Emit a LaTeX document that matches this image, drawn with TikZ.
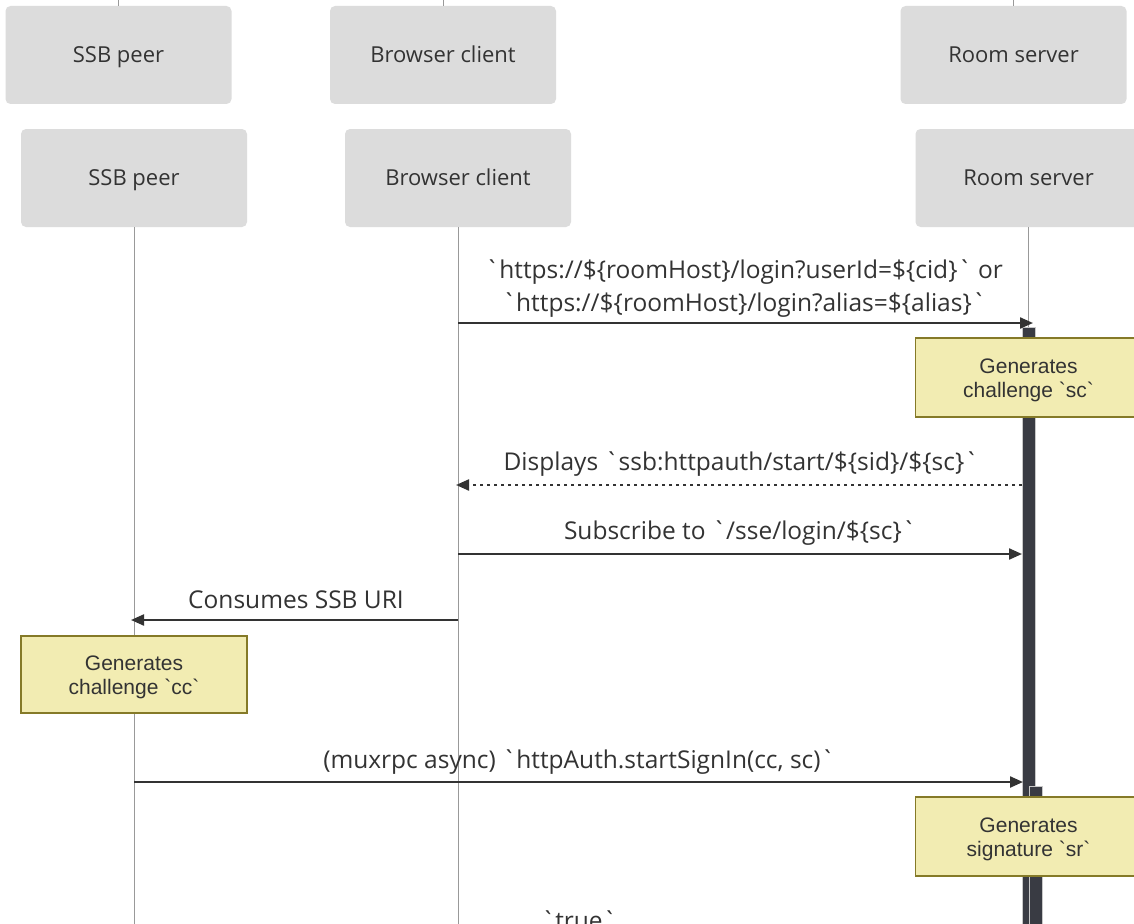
\documentclass[tikz,border=0pt]{standalone}
\usepackage{fontspec}
\setmainfont{Open Sans}[Ligatures=TeXOff]
\newfontfamily\msgfont{Open Sans}[Ligatures=TeXOff]
\newfontfamily\notefont{Liberation Sans}[Ligatures=TeXOff]
\usetikzlibrary{arrows.meta}
\definecolor{actorfill}{HTML}{DCDCDC}
\definecolor{inkdark}{HTML}{333333}
\definecolor{lifegray}{HTML}{999999}
\definecolor{notefill}{HTML}{F2ECB2}
\definecolor{noteedge}{HTML}{857A28}
\definecolor{barfill}{HTML}{393B43}
\definecolor{baredge}{HTML}{C8C8C8}
\tikzset{
  actor/.style={fill=actorfill, rounded corners=5pt, minimum width=226pt,
    minimum height=98pt, inner sep=0pt, text=inkdark,
    text height=15.7pt, text depth=0pt,
    font=\msgfont\fontsize{22}{26}\selectfont},
  note/.style={fill=notefill, draw=noteedge, line width=1.3pt,
    minimum width=226pt, inner sep=0pt},
  notetext/.style={align=center, text=inkdark, inner sep=0pt,
    font=\notefont\fontsize{21}{24}\selectfont},
  life/.style={draw=lifegray, line width=1pt},
  actbar/.style={fill=barfill, draw=baredge, line width=0.8pt,
    minimum width=13pt, inner sep=0pt, anchor=north},
  msg/.style={draw=inkdark, line width=2.2pt,
    -{Triangle[length=13pt,width=11pt]}},
  reply/.style={msg, dash pattern=on 3.5pt off 3.5pt},
  msglabel/.style={anchor=base, align=center, text=inkdark, inner sep=0pt,
    font=\msgfont\fontsize{24.5}{33}\selectfont},
}
\begin{document}
\begin{tikzpicture}[x=1pt,y=-1pt]
\useasboundingbox (0,0) rectangle (1134,923);
\clip (0,0) rectangle (1134,923);
\fill[white] (0,0) rectangle (1134,923);

% footer row of the previous diagram
\node[actor] (peerA) at (118.5,55) {SSB peer};
\node[actor] (browserA) at (443,55) {Browser client};
\node[actor] (roomA) at (1013.5,55) {Room server};
\coordinate (peerAtop) at (118.5,-5);
\coordinate (browserAtop) at (443,-5);
\coordinate (roomAtop) at (1013.5,-5);
\draw[life] (peerA.north) -- (peerAtop);
\draw[life] (browserA.north) -- (browserAtop);
\draw[life] (roomA.north) -- (roomAtop);

% participants
\node[actor] (peer) at (134,178) {SSB peer};
\node[actor] (browser) at (458,178) {Browser client};
\node[actor] (room) at (1028.5,178) {Room server};
\coordinate (peerEnd) at (134,940);
\coordinate (browserEnd) at (458,940);
\coordinate (roomEnd) at (1028.5,940);
\draw[life] (peer.south) -- (peerEnd);
\draw[life] (browser.south) -- (browserEnd);
\draw[life] (room.south) -- (roomEnd);

% activations on the room server
\node[actbar, minimum height=620pt] (act1) at (1028.5,327) {};
\node[actbar, minimum height=160pt] (act2) at (1035.5,786) {};

% message end points
\coordinate (m1a) at (458,323);   \coordinate (m1b) at (1033,323);
\coordinate (m2a) at (1022,485);  \coordinate (m2b) at (456,485);
\coordinate (m3a) at (458,554);   \coordinate (m3b) at (1022,554);
\coordinate (m4a) at (458,620);   \coordinate (m4b) at (131,620);
\coordinate (m5a) at (134,782);   \coordinate (m5b) at (1023,782);

% messages
\draw[msg] (m1a) -- (m1b);
\node[msglabel] (l1) at (744,311) {`https://\$\{roomHost\}/login?userId=\$\{cid\}` or\\`https://\$\{roomHost\}/login?alias=\$\{alias\}`};

\node[note, minimum height=79pt] (nsc) at (1028.5,377.5) {};
\node[notetext] (tsc) at (1028.5,380.5) {Generates\\challenge `sc`};

\draw[reply] (m2a) -- (m2b);
\node[msglabel] (l2) at (741,470) {Displays `ssb:httpauth/start/\$\{sid\}/\$\{sc\}`};

\draw[msg] (m3a) -- (m3b);
\node[msglabel] (l3) at (740,539) {Subscribe to `/sse/login/\$\{sc\}`};

\draw[msg] (m4a) -- (m4b);
\node[msglabel] (l4) at (296,608) {Consumes SSB URI};

\node[note, minimum height=77pt] (ncc) at (134,674.5) {};
\node[notetext] (tcc) at (134,677.5) {Generates\\challenge `cc`};

\draw[msg] (m5a) -- (m5b);
\node[msglabel] (l5) at (579,768) {(muxrpc async) `httpAuth.startSignIn(cc, sc)`};

\node[note, minimum height=79pt] (nsr) at (1028.5,836.5) {};
\node[notetext] (tsr) at (1028.5,839.5) {Generates\\signature `sr`};

\node[msglabel] (l6) at (579,929) {`true`};
\end{tikzpicture}
\end{document}
